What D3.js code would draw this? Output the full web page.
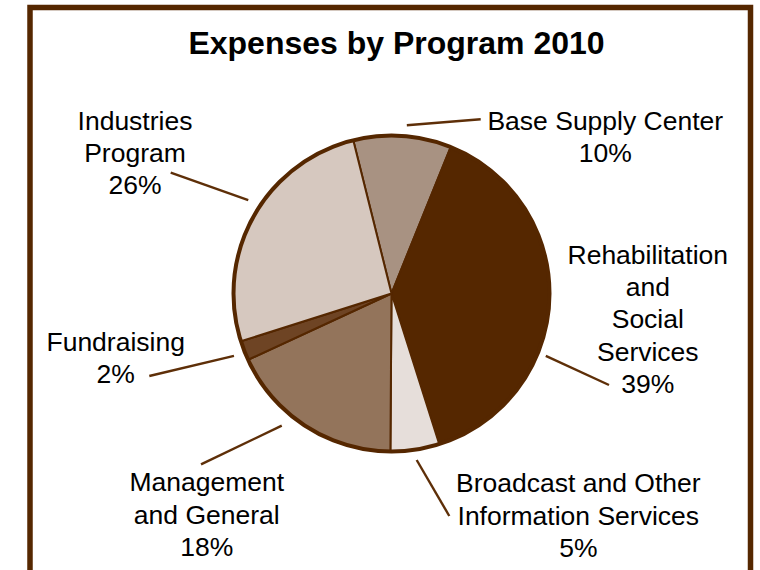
<!DOCTYPE html>
<html>
<head>
<meta charset="utf-8">
<script src="https://cdn.jsdelivr.net/npm/d3@7"></script>
<style>
  html, body { margin: 0; padding: 0; background: #ffffff; }
  svg { display: block; }
</style>
</head>
<body>
<svg id="chart" width="760" height="570"></svg>
<script>
// ---- data ----
const title = "Expenses by Program 2010";
const categories = [
  "Base Supply Center",
  "Rehabilitation and Social Services",
  "Broadcast and Other Information Services",
  "Management and General",
  "Fundraising",
  "Industries Program"
];
const values = [10, 39, 5, 18, 2, 26];
const labelLines = [
  ["Base Supply Center", "10%"],
  ["Rehabilitation", "and", "Social", "Services", "39%"],
  ["Broadcast and Other", "Information Services", "5%"],
  ["Management", "and General", "18%"],
  ["Fundraising", "2%"],
  ["Industries", "Program", "26%"]
];
const colors = ["#a89282", "#552700", "#e6deda", "#93745b", "#6e4424", "#d6c8bf"];

// ---- layout (positions, not data) ----
const W = 760, H = 570;
const cx = 391.5, cy = 293.5, R = 158;
const startDeg = -14;
const lineH = 32.3;
// label text: center x, first baseline y
const labelPos = [
  [605.3, 129.8],
  [647.8, 263.8],
  [578.3, 492.2],
  [206.8, 491.2],
  [115.7, 350.5],
  [135.0, 129.8]
];
// leader line: inner end (angle deg clockwise from top, radius), outer end (x, y)
const leaders = [
  {a: 5.2,   r: 169,   x: 480.7, y: 119.3},
  {a: 112,   r: 166.4, x: 609,   y: 385},
  {a: 171.4, r: 168.4, x: 449.3, y: 516},
  {a: 219.7, r: 171.8, x: 201,   y: 464.3},
  {a: 248.4, r: 169.4, x: 149.3, y: 376},
  {a: 303.1, r: 171,   x: 170.7, y: 172.7}
];

const svg = d3.select("#chart");
const dark = "#552700";
const fontFam = "'Liberation Sans', Arial, Helvetica, sans-serif";

// frame
svg.append("rect")
  .attr("x", 30).attr("y", 7.5)
  .attr("width", 720.5).attr("height", H + 20)
  .attr("fill", "none")
  .attr("stroke", dark)
  .attr("stroke-width", 5.5);

// title
svg.append("text")
  .attr("x", 396.5).attr("y", 54)
  .attr("text-anchor", "middle")
  .attr("font-family", fontFam)
  .attr("font-weight", "bold")
  .attr("font-size", 32)
  .attr("fill", "#000")
  .text(title);

// pie
const rad = d => d * Math.PI / 180;
const pie = d3.pie().sort(null)
  .startAngle(rad(startDeg))
  .endAngle(rad(startDeg + 360));
const arcs = pie(values);
const arc = d3.arc().innerRadius(0).outerRadius(R);

const g = svg.append("g").attr("transform", `translate(${cx},${cy})`);
g.selectAll("path.slice")
  .data(arcs)
  .join("path")
  .attr("class", "slice")
  .attr("d", arc)
  .attr("fill", (d, i) => colors[i])
  .attr("stroke", dark)
  .attr("stroke-width", 2)
  .attr("stroke-linejoin", "round");

g.append("circle")
  .attr("r", R)
  .attr("fill", "none")
  .attr("stroke", dark)
  .attr("stroke-width", 4);

// leader lines
svg.selectAll("line.leader")
  .data(leaders)
  .join("line")
  .attr("class", "leader")
  .attr("x1", d => cx + d.r * Math.sin(rad(d.a)))
  .attr("y1", d => cy - d.r * Math.cos(rad(d.a)))
  .attr("x2", d => d.x)
  .attr("y2", d => d.y)
  .attr("stroke", "#5e2f08")
  .attr("stroke-width", 2.4);

// labels
categories.forEach((c, i) => {
  const t = svg.append("text")
    .attr("text-anchor", "middle")
    .attr("font-family", fontFam)
    .attr("font-size", 26.5)
    .attr("fill", "#000");
  labelLines[i].forEach((ln, j) => {
    t.append("tspan")
      .attr("x", labelPos[i][0])
      .attr("y", labelPos[i][1] + j * lineH)
      .text(ln);
  });
});
</script>
</body>
</html>
